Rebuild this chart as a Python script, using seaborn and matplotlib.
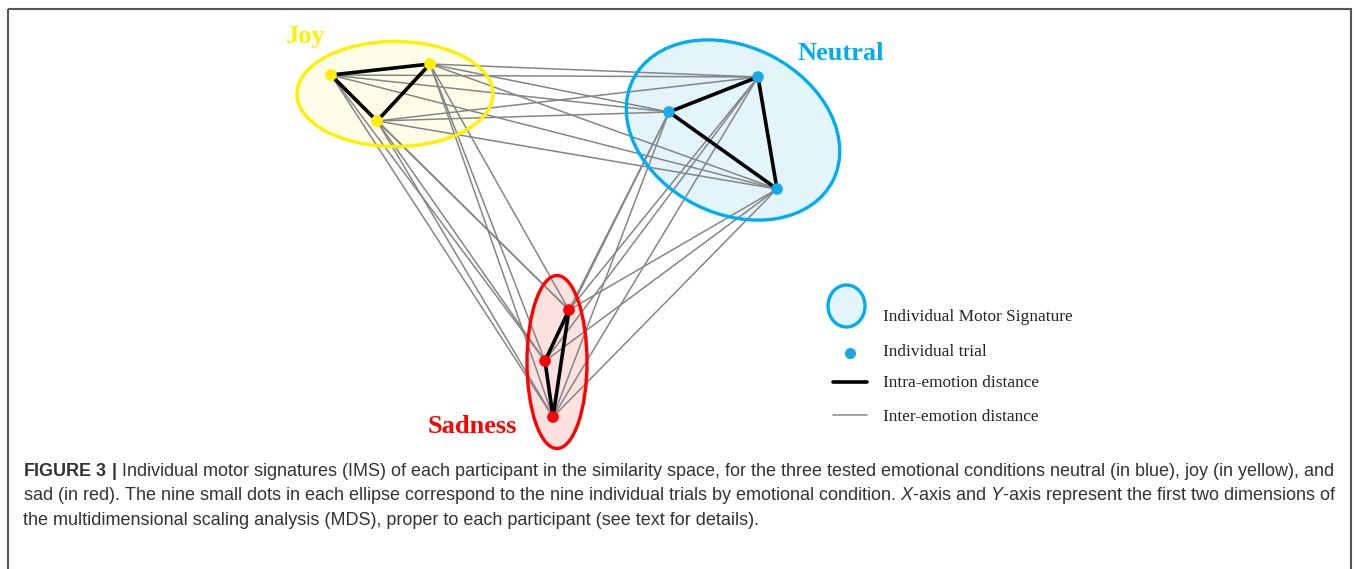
import matplotlib
matplotlib.use("Agg")
import matplotlib.pyplot as plt
from matplotlib.patches import Ellipse, Rectangle
import pandas as pd
import seaborn as sns

# trial positions in the similarity space (image units)
joy_x = [331, 430, 377]
joy_y = [75, 64, 121]
neutral_x = [669, 758, 777]
neutral_y = [112, 77, 189]
sad_x = [569, 545, 553]
sad_y = [310, 361, 417]

emotions = ["Joy", "Neutral", "Sadness"]
edge_colors = ["#FFF000", "#00AEEF", "#FF0000"]
fill_colors = ["#FEFEE8", "#E3F4FB", "#FCE1E1"]
dot_colors = ["#FFEE00", "#1BA9E6", "#FF0000"]

# individual motor signature ellipses: centre x, centre y, width, height, angle
ims_cx = [395, 733, 557]
ims_cy = [94, 130, 362]
ims_w = [196, 224, 60]
ims_h = [105, 167, 173]
ims_angle = [0, 27, 0]

label_x = [286, 797, 428]
label_y = [43, 60, 433]

legend_labels = ["Individual Motor Signature", "Individual trial",
                 "Intra-emotion distance", "Inter-emotion distance"]

caption = [
    r"$\mathbf{FIGURE\ 3\ |}$ Individual motor signatures (IMS) of each participant in the similarity space, "
    "for the three tested emotional conditions neutral (in blue), joy (in yellow), and",
    "sad (in red). The nine small dots in each ellipse correspond to the nine individual trials by "
    r"emotional condition. $\mathit{X}$-axis and $\mathit{Y}$-axis represent the first two dimensions of",
    "the multidimensional scaling analysis (MDS), proper to each participant (see text for details).",
]

sns.set_theme(style="white")
plt.rcParams["font.family"] = ["Liberation Serif", "DejaVu Serif"]
plt.rcParams["mathtext.fontset"] = "custom"
plt.rcParams["mathtext.rm"] = "Liberation Sans"
plt.rcParams["mathtext.it"] = "Liberation Sans:italic"
plt.rcParams["mathtext.bf"] = "Liberation Sans:bold"

df = pd.DataFrame({
    "x": joy_x + neutral_x + sad_x,
    "y": joy_y + neutral_y + sad_y,
    "emotion": [e for e in emotions for _ in range(3)],
})

fig = plt.figure(figsize=(13.57, 5.69), dpi=100)
ax = fig.add_axes([0, 0, 1, 1])

# frame of the figure panel
ax.add_patch(Rectangle((8, 9), 1343, 580, fill=False, ec="#555555", lw=1.5, zorder=1))

# ellipse fills
for i in range(3):
    ax.add_patch(Ellipse((ims_cx[i], ims_cy[i]), ims_w[i], ims_h[i], angle=ims_angle[i],
                         fc=fill_colors[i], ec="none", zorder=1))

# inter-emotion distances: every pair of trials from different emotions
pts = df.to_dict("records")
for i, a in enumerate(pts):
    for b in pts[i + 1:]:
        if a["emotion"] != b["emotion"]:
            ax.plot([a["x"], b["x"]], [a["y"], b["y"]], color="#858585", lw=1.1, zorder=2)

# intra-emotion distances
for emo, grp in df.groupby("emotion"):
    g = grp.to_dict("records")
    for i, a in enumerate(g):
        for b in g[i + 1:]:
            ax.plot([a["x"], b["x"]], [a["y"], b["y"]], color="black", lw=2.6, zorder=3)

# ellipse outlines
for i in range(3):
    ax.add_patch(Ellipse((ims_cx[i], ims_cy[i]), ims_w[i], ims_h[i], angle=ims_angle[i],
                         fc="none", ec=edge_colors[i], lw=2.4, zorder=4))

sns.scatterplot(data=df, x="x", y="y", hue="emotion", palette=dot_colors, s=70,
                edgecolor="none", legend=False, ax=ax, zorder=5)
ax.set_xlim(0, 1357)
ax.set_ylim(569, 0)
ax.axis("off")

for i, emo in enumerate(emotions):
    ax.text(label_x[i], label_y[i], emo, color=edge_colors[i], fontsize=19,
            fontweight="bold", va="baseline", ha="left")

# legend
ax.add_patch(Ellipse((846.5, 306), 37, 42, fc=fill_colors[1], ec=edge_colors[1], lw=2.4))
ax.plot([850], [353], "o", color=dot_colors[1], ms=8, mec="none")
ax.plot([833, 867], [382, 382], color="black", lw=2.6)
ax.plot([833, 867], [415, 415], color="#858585", lw=1.1)
for txt, yy in zip(legend_labels, [321, 356, 387, 421]):
    ax.text(883, yy, txt, fontsize=12.4, color="#222222", va="baseline", ha="left")

# caption, sized so the first line spans the panel as in the original
caps = []
for line, yy in zip(caption, [476, 500, 525]):
    caps.append(ax.text(23, yy, line, fontsize=12, color="#333333", va="baseline",
                        ha="left", family="Liberation Sans"))
fig.canvas.draw()
w = caps[0].get_window_extent().width
for t in caps:
    t.set_fontsize(12 * 1312 / w)

fig.savefig("out.png", dpi=100)
